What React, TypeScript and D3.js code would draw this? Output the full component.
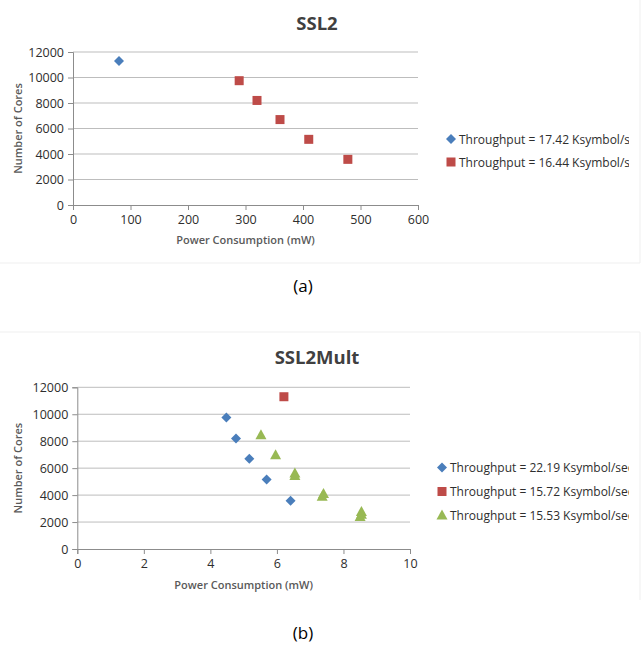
import React, { useEffect, useRef } from 'react'
import * as d3 from 'd3'

// chart (a) SSL2
const ssl2Blue = [{ x: 80, y: 11300 }]
const ssl2Red = [
  { x: 289, y: 9750 },
  { x: 320, y: 8200 },
  { x: 360, y: 6700 },
  { x: 410, y: 5150 },
  { x: 478, y: 3580 },
]
const ssl2Legend = ['Throughput = 17.42 Ksymbol/sec', 'Throughput = 16.44 Ksymbol/sec']
const ssl2XTicks = [0, 100, 200, 300, 400, 500, 600]

// chart (b) SSL2Mult
const multBlue = [
  { x: 4.48, y: 9750 },
  { x: 4.77, y: 8200 },
  { x: 5.17, y: 6700 },
  { x: 5.69, y: 5150 },
  { x: 6.41, y: 3580 },
]
const multRed = [{ x: 6.21, y: 11300 }]
const multGreen = [
  { x: 5.52, y: 8450 },
  { x: 5.96, y: 6950 },
  { x: 6.54, y: 5600 },
  { x: 6.54, y: 5420 },
  { x: 7.4, y: 4080 },
  { x: 7.36, y: 3880 },
  { x: 8.54, y: 2750 },
  { x: 8.54, y: 2550 },
  { x: 8.5, y: 2380 },
]
const multLegend = [
  'Throughput = 22.19 Ksymbol/sec',
  'Throughput = 15.72 Ksymbol/sec',
  'Throughput = 15.53 Ksymbol/sec',
]
const multXTicks = [0, 2, 4, 6, 8, 10]

const yTicks = [0, 2000, 4000, 6000, 8000, 10000, 12000]

const BLUE = '#4a7ebb'
const RED = '#be4b48'
const GREEN = '#98b954'
const FONT = '"Open Sans", "Liberation Sans", sans-serif'

function drawMarker(g, shape, color, x, y) {
  if (shape === 'diamond') {
    g.append('path').attr('d', `M${x},${y - 5}L${x + 5},${y}L${x},${y + 5}L${x - 5},${y}Z`).attr('fill', color)
  } else if (shape === 'square') {
    g.append('rect').attr('x', x - 4.5).attr('y', y - 4.5).attr('width', 9).attr('height', 9).attr('fill', color)
  } else {
    g.append('path').attr('d', `M${x},${y - 6}L${x + 5.5},${y + 4}L${x - 5.5},${y + 4}Z`).attr('fill', color)
  }
}

function drawChart(root, cfg) {
  const g = root.append('g')
  const x = d3.scaleLinear().domain(cfg.xDomain).range(cfg.xRange)
  const y = d3.scaleLinear().domain([0, 12000]).range(cfg.yRange)

  // gridlines
  g.selectAll('line.grid')
    .data(yTicks.slice(1))
    .enter()
    .append('line')
    .attr('x1', cfg.xRange[0])
    .attr('x2', cfg.xRange[1])
    .attr('y1', d => y(d))
    .attr('y2', d => y(d))
    .attr('stroke', '#bdbdbd')
    .attr('stroke-width', 1)

  const yAxis = d3.axisLeft(y).tickValues(yTicks).tickSize(5).tickPadding(4).tickFormat(d3.format('d'))
  const xAxis = d3.axisBottom(x).tickValues(cfg.xTicks).tickSize(5).tickPadding(5).tickFormat(d3.format('d'))

  const ya = g.append('g').attr('transform', `translate(${cfg.xRange[0]},0)`).call(yAxis)
  const xa = g.append('g').attr('transform', `translate(0,${cfg.yRange[0]})`).call(xAxis)
  for (const a of [ya, xa]) {
    a.select('.domain').attr('stroke', '#8c8c8c')
    a.selectAll('.tick line').attr('stroke', '#8c8c8c')
    a.selectAll('.tick text').attr('fill', '#2e2e2e').style('font-size', '12.5px').style('font-family', FONT)
  }

  // title
  g.append('text')
    .attr('x', 317)
    .attr('y', cfg.titleY)
    .attr('text-anchor', 'middle')
    .attr('fill', '#404040')
    .style('font-size', '18.5px')
    .style('font-weight', 'bold')
    .style('font-family', FONT)
    .text(cfg.title)

  // axis titles
  g.append('text')
    .attr('transform', `translate(${cfg.yLabelX},${(cfg.yRange[0] + cfg.yRange[1]) / 2}) rotate(-90)`)
    .attr('text-anchor', 'middle')
    .attr('fill', '#595959')
    .style('font-size', '11px')
    .style('font-weight', 600)
    .style('font-family', FONT)
    .text('Number of Cores')
  g.append('text')
    .attr('x', (cfg.xRange[0] + cfg.xRange[1]) / 2)
    .attr('y', cfg.xLabelY)
    .attr('text-anchor', 'middle')
    .attr('fill', '#595959')
    .style('font-size', '11px')
    .style('font-weight', 600)
    .style('font-family', FONT)
    .text('Power Consumption (mW)')

  // points
  cfg.series.forEach(s => {
    s.data.forEach(d => drawMarker(g, s.shape, s.color, x(d.x), y(d.y)))
  })

  // legend, clipped at the chart frame
  const clipId = 'clip-' + cfg.title
  root.append('clipPath').attr('id', clipId).append('rect')
    .attr('x', 0).attr('y', 0).attr('width', 629).attr('height', 646)
  const lg = g.append('g').attr('clip-path', `url(#${clipId})`)
  cfg.series.forEach((s, i) => {
    const ly = cfg.legendY + i * cfg.legendGap
    drawMarker(lg, s.shape, s.color, cfg.legendX, ly)
    lg.append('text')
      .attr('x', cfg.legendX + 8)
      .attr('y', ly + 4.5)
      .attr('fill', '#2e2e2e')
      .style('font-size', '12px')
      .style('font-family', FONT)
      .text(cfg.legend[i])
  })

  // caption
  root.append('text')
    .attr('x', 303)
    .attr('y', cfg.captionY)
    .attr('text-anchor', 'middle')
    .attr('fill', '#000')
    .style('font-size', '17px')
    .style('font-family', FONT)
    .text(cfg.caption)
}

export default function App() {
  const ref = useRef(null)

  useEffect(() => {
    const svg = d3.select(ref.current)
    svg.selectAll('*').remove()

    // faint chart frames
    svg.append('line').attr('x1', 0).attr('x2', 640).attr('y1', 263).attr('y2', 263).attr('stroke', '#efefef')
    svg.append('line').attr('x1', 640).attr('x2', 640).attr('y1', 0).attr('y2', 263).attr('stroke', '#efefef')
    svg.append('line').attr('x1', 0).attr('x2', 640).attr('y1', 332).attr('y2', 332).attr('stroke', '#efefef')
    svg.append('line').attr('x1', 640).attr('x2', 640).attr('y1', 332).attr('y2', 600).attr('stroke', '#efefef')

    drawChart(svg, {
      title: 'SSL2',
      titleY: 30,
      xDomain: [0, 600],
      xRange: [73, 418],
      yRange: [205, 52],
      xTicks: ssl2XTicks,
      yLabelX: 22,
      xLabelY: 244,
      legendX: 451,
      legendY: 139,
      legendGap: 23,
      legend: ssl2Legend,
      captionY: 292,
      caption: '(a)',
      series: [
        { data: ssl2Blue, shape: 'diamond', color: BLUE },
        { data: ssl2Red, shape: 'square', color: RED },
      ],
    })

    drawChart(svg, {
      title: 'SSL2Mult',
      titleY: 364,
      xDomain: [0, 10],
      xRange: [77.3, 410],
      yRange: [549, 387.3],
      xTicks: multXTicks,
      yLabelX: 22,
      xLabelY: 589,
      legendX: 442,
      legendY: 467.5,
      legendGap: 24,
      legend: multLegend,
      captionY: 639,
      caption: '(b)',
      series: [
        { data: multBlue, shape: 'diamond', color: BLUE },
        { data: multRed, shape: 'square', color: RED },
        { data: multGreen, shape: 'triangle', color: GREEN },
      ],
    })
  }, [])

  return (
    <svg
      ref={ref}
      width={643}
      height={646}
      style={{ position: 'absolute', left: 0, top: 0, background: '#fff' }}
    />
  )
}
